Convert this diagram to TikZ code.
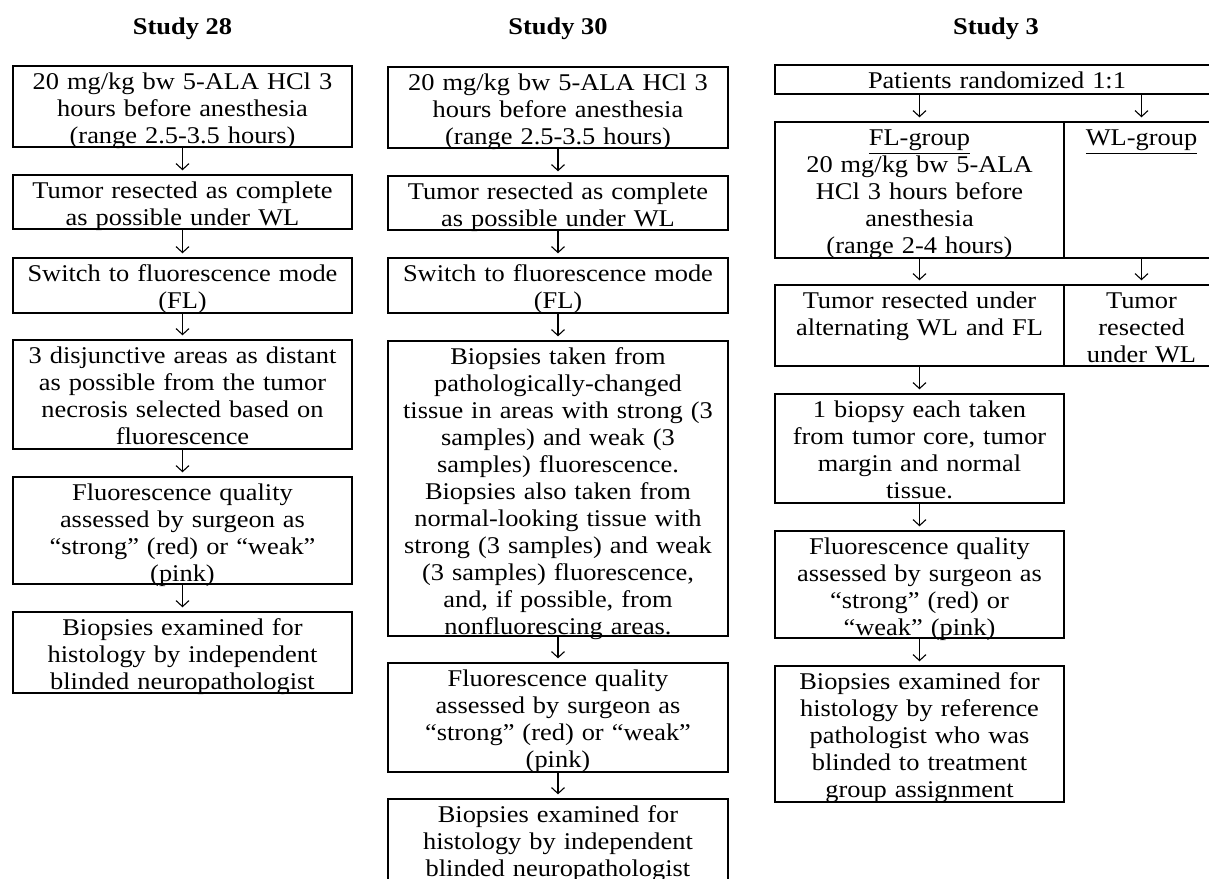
\documentclass[tikz,border=0pt]{standalone}
\usepackage{fontspec}
\setmainfont{Liberation Serif}[FakeStretch=1.1]
\usetikzlibrary{fit,arrows.meta}
\tikzset{
  box/.style={draw, line width=1.1pt, inner sep=0pt},
  txt/.style={anchor=north, inner sep=0pt, text width=190pt, align=center,
              font=\fontsize{12}{13.5}\selectfont},
  ttl/.style={anchor=base, inner sep=0pt, font=\fontsize{12}{13.5}\selectfont\bfseries},
  arr/.style={line width=0.55pt, -{Straight Barb[length=3pt,width=6.5pt]}, shorten >=1.8pt}
}
\newcommand\fbx[4]{%
  \node[box, fit={#2 #3}] (#1) {};
  \node[txt] (#1t) at (#1.north) {\rule{0pt}{12pt}#4};}
\begin{document}
\begin{tikzpicture}[x=0.5pt,y=-0.5pt]
\useasboundingbox (0,0) rectangle (1209,878);
% titles
\node[ttl] (t28) at (182.5,34) {Study 28};
\node[ttl] (t30) at (558,34) {Study 30};
\node[ttl] (t3) at (996,34) {Study 3};
% Study 28
\fbx{a1}{(13,66)}{(352,147)}{20 mg/kg bw 5-ALA HCl 3\\hours before anesthesia\\(range 2.5-3.5 hours)}
\fbx{a2}{(13,175)}{(352,229)}{Tumor resected as complete\\as possible under WL}
\fbx{a3}{(13,258)}{(352,313)}{Switch to fluorescence mode\\(FL)}
\fbx{a4}{(13,340)}{(352,449)}{3 disjunctive areas as distant\\as possible from the tumor\\necrosis selected based on\\fluorescence}
\fbx{a5}{(13,477)}{(352,584)}{Fluorescence quality\\assessed by surgeon as\\“strong” (red) or “weak”\\(pink)}
\fbx{a6}{(13,612)}{(352,693)}{Biopsies examined for\\histology by independent\\blinded neuropathologist}
\draw[arr] (a1.south) -- (a2.north);
\draw[arr] (a2.south) -- (a3.north);
\draw[arr] (a3.south) -- (a4.north);
\draw[arr] (a4.south) -- (a5.north);
\draw[arr] (a5.south) -- (a6.north);
% Study 30
\fbx{b1}{(388,67)}{(728,148)}{20 mg/kg bw 5-ALA HCl 3\\hours before anesthesia\\(range 2.5-3.5 hours)}
\fbx{b2}{(388,176)}{(728,230)}{Tumor resected as complete\\as possible under WL}
\fbx{b3}{(388,258)}{(728,313)}{Switch to fluorescence mode\\(FL)}
\fbx{b4}{(388,341)}{(728,636)}{Biopsies taken from\\pathologically-changed\\tissue in areas with strong (3\\samples) and weak (3\\samples) fluorescence.\\Biopsies also taken from\\normal-looking tissue with\\strong (3 samples) and weak\\(3 samples) fluorescence,\\and, if possible, from\\nonfluorescing areas.}
\fbx{b5}{(388,663)}{(728,772)}{Fluorescence quality\\assessed by surgeon as\\“strong” (red) or “weak”\\(pink)}
\fbx{b6}{(388,799)}{(728,881)}{Biopsies examined for\\histology by independent\\blinded neuropathologist}
\draw[arr] (b1.south) -- (b2.north);
\draw[arr] (b2.south) -- (b3.north);
\draw[arr] (b3.south) -- (b4.north);
\draw[arr] (b4.south) -- (b5.north);
\draw[arr] (b5.south) -- (b6.north);
% Study 3
\fbx{c0}{(775,65)}{(1219,94)}{Patients randomized 1:1}
\fbx{c1}{(775,122)}{(1064,258)}{\underline{FL-group}\\20 mg/kg bw 5-ALA\\HCl 3 hours before\\anesthesia\\(range 2-4 hours)}
\fbx{w1}{(1064,122)}{(1219,258)}{\underline{WL-group}}
\fbx{c2}{(775,285)}{(1064,366)}{Tumor resected under\\alternating WL and FL}
\fbx{w2}{(1064,285)}{(1219,366)}{Tumor\\resected\\under WL}
\fbx{c3}{(775,394)}{(1064,503)}{1 biopsy each taken\\from tumor core, tumor\\margin and normal\\tissue.}
\fbx{c4}{(775,531)}{(1064,638)}{Fluorescence quality\\assessed by surgeon as\\“strong” (red) or\\“weak” (pink)}
\fbx{c5}{(775,666)}{(1064,802)}{Biopsies examined for\\histology by reference\\pathologist who was\\blinded to treatment\\group assignment}
\draw[arr] (c1.north |- c0.south) -- (c1.north);
\draw[arr] (w1.north |- c0.south) -- (w1.north);
\draw[arr] (c1.south) -- (c2.north);
\draw[arr] (w1.south) -- (w2.north);
\draw[arr] (c2.south) -- (c3.north);
\draw[arr] (c3.south) -- (c4.north);
\draw[arr] (c4.south) -- (c5.north);
\end{tikzpicture}
\end{document}
